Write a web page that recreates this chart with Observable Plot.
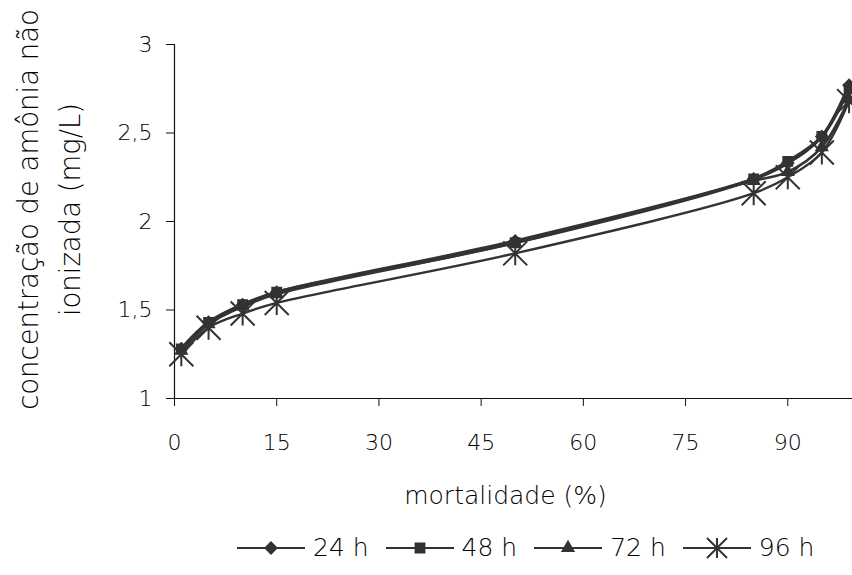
<!DOCTYPE html>
<html>
<head>
<meta charset="utf-8">
<script src="https://cdn.jsdelivr.net/npm/d3@7"></script>
<script src="https://cdn.jsdelivr.net/npm/@observablehq/plot@0.6"></script>
<style>
  body { margin: 0; background: #fff; font-family: "DejaVu Sans", sans-serif; font-weight: 200; }
  #legend { display: flex; align-items: center; height: 55px; padding-left: 237px; font-size: 25px; color: #000; }
  #legend .item { display: flex; align-items: center; margin-right: 17px; }
  #legend svg { margin-right: 8px; }
  svg text { font-weight: 200; }
</style>
</head>
<body>
<div id="chart"></div>
<div id="legend"></div>
<script>
// ---- data ----
const mortalidade = [1, 5, 10, 15, 50, 85, 90, 95, 99];
const series = ["24 h", "48 h", "72 h", "96 h"];
const h24 = [1.28, 1.43, 1.53, 1.60, 1.89, 2.24, 2.33, 2.48, 2.77];
const h48 = [1.28, 1.43, 1.53, 1.60, 1.88, 2.24, 2.34, 2.48, 2.75];
const h72 = [1.27, 1.42, 1.52, 1.59, 1.88, 2.23, 2.28, 2.42, 2.69];
const h96 = [1.25, 1.40, 1.48, 1.54, 1.82, 2.16, 2.25, 2.39, 2.68];
const xTicks = [0, 15, 30, 45, 60, 75, 90];
const yTicks = [1, 1.5, 2, 2.5, 3];

const values = [h24, h48, h72, h96];
const data = [];
series.forEach((s, i) => mortalidade.forEach((m, j) => data.push({series: s, x: m, y: values[i][j]})));

const ink = "#333";
const excelStar = {
  draw(ctx, size) {
    const r = Math.sqrt(size / Math.PI);
    ctx.moveTo(-r, -r); ctx.lineTo(r, r);
    ctx.moveTo(r, -r); ctx.lineTo(-r, r);
    ctx.moveTo(0, -r); ctx.lineTo(0, r);
  }
};
const symbols = {"24 h": {symbol: "diamond2", r: 5, fill: ink}, "48 h": {symbol: "square", r: 5, fill: ink},
                 "72 h": {symbol: "triangle", r: 4, fill: ink}, "96 h": {symbol: excelStar, r: 12, fill: "none"}};
const widths = {"24 h": 3.2, "48 h": 3.2, "72 h": 2.6, "96 h": 2.4};

const marks = [];
series.forEach(s => {
  const d = data.filter(e => e.series === s);
  marks.push(Plot.line(d, {x: "x", y: "y", stroke: ink, strokeWidth: widths[s], curve: "catmull-rom"}));
});
series.forEach(s => {
  const d = data.filter(e => e.series === s);
  const o = symbols[s];
  marks.push(Plot.dot(d, {x: "x", y: "y", symbol: () => o.symbol, r: o.r, fill: o.fill, stroke: ink, strokeWidth: 2}));
});

const fmt = d => String(d).replace(".", ",");
const font = "'DejaVu Sans', sans-serif";

const plot = Plot.plot({
  width: 852,
  height: 520,
  marginLeft: 174,
  marginRight: 0,
  marginTop: 44,
  marginBottom: 122,
  style: {fontFamily: font, fontSize: "22px", color: "#000", background: "#fff"},
  x: {domain: [0, 99.5]},
  y: {domain: [1, 3]},
  symbol: {type: "identity"},
  marks: [
    Plot.axisX({ticks: xTicks, tickSize: 8, tickPadding: 28, fontSize: 22, label: null, stroke: "#111"}),
    Plot.axisY({ticks: yTicks, tickSize: 8, tickPadding: 14, fontSize: 22, label: null, tickFormat: fmt, stroke: "#111"}),
    Plot.ruleX([0], {stroke: "#111", strokeWidth: 1.2}),
    Plot.ruleY([1], {stroke: "#111", strokeWidth: 1.2}),
    ...marks,
    Plot.text(["concentração de amônia não"], {frameAnchor: "left", rotate: -90, dx: -145, dy: -12, fontSize: 27.5, textAnchor: "middle", fill: "#000"}),
    Plot.text(["ionizada (mg/L)"], {frameAnchor: "left", rotate: -90, dx: -103, dy: -12, fontSize: 27.5, textAnchor: "middle", fill: "#000"}),
    Plot.text(["mortalidade (%)"], {frameAnchor: "bottom", dx: -8, dy: 105, fontSize: 25, fill: "#000"})
  ]
});
document.getElementById("chart").appendChild(plot);

// legend
const legend = d3.select("#legend");
series.forEach(s => {
  const o = symbols[s];
  const item = legend.append("div").attr("class", "item");
  const sv = item.append("svg").attr("width", 68).attr("height", 30);
  sv.append("line").attr("x1", 0).attr("x2", 68).attr("y1", 15).attr("y2", 15).attr("stroke", ink).attr("stroke-width", 2);
  const symType = typeof o.symbol === "string" ? {diamond2: d3.symbolDiamond2, square: d3.symbolSquare, triangle: d3.symbolTriangle}[o.symbol] : o.symbol;
  sv.append("path").attr("transform", "translate(34,15)")
    .attr("d", d3.symbol(symType, o.symbol === excelStar ? Math.PI * 100 : Math.PI * o.r * o.r)())
    .attr("fill", o.fill).attr("stroke", ink).attr("stroke-width", 2);
  item.append("span").text(s);
});
</script>
</body>
</html>
